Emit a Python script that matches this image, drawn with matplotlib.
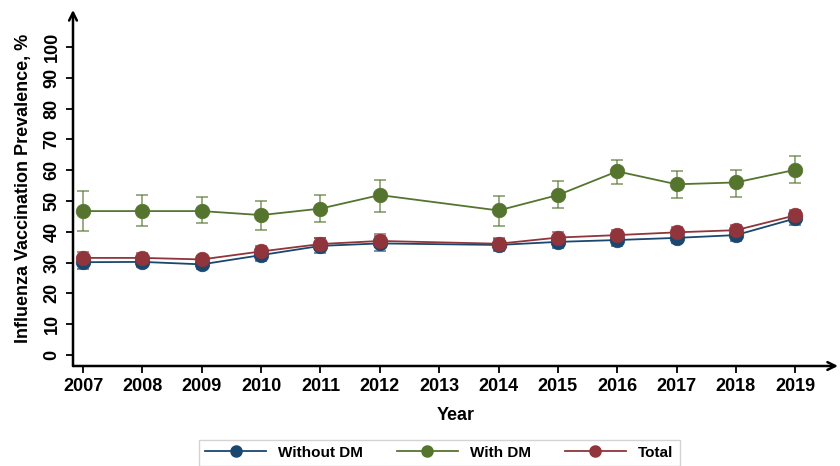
import matplotlib
matplotlib.use("Agg")
import matplotlib.pyplot as plt
from matplotlib.lines import Line2D

plt.rcParams['font.family'] = ['Liberation Sans', 'DejaVu Sans']

# Survey years (2013 not collected)
years = [2007, 2008, 2009, 2010, 2011, 2012, 2014, 2015, 2016, 2017, 2018, 2019]
tick_years = list(range(2007, 2020))

# Prevalence (%) with 95% CI bounds
without_dm = [30.1, 30.2, 29.4, 32.4, 35.4, 36.2, 35.7, 36.7, 37.3, 38.0, 38.9, 44.3]
without_lo = [28.0, 28.4, 27.8, 30.6, 33.0, 33.8, 33.8, 34.8, 35.5, 36.2, 37.0, 42.2]
without_hi = [32.2, 32.0, 31.0, 34.2, 37.8, 38.6, 37.6, 38.6, 39.1, 39.8, 40.8, 46.4]

with_dm = [46.7, 46.7, 46.7, 45.4, 47.5, 51.9, 46.9, 51.9, 59.6, 55.4, 56.0, 60.1]
with_lo = [40.2, 41.9, 42.7, 40.6, 43.3, 46.5, 42.0, 47.6, 55.5, 50.8, 51.4, 55.7]
with_hi = [53.2, 52.0, 51.2, 50.0, 52.0, 56.9, 51.6, 56.4, 63.2, 59.7, 60.1, 64.7]

total = [31.5, 31.5, 31.0, 33.6, 36.0, 37.0, 36.1, 38.1, 38.9, 39.8, 40.5, 45.3]
total_lo = [29.5, 29.8, 29.6, 31.9, 34.2, 34.9, 34.4, 36.4, 37.3, 38.2, 38.9, 43.4]
total_hi = [33.5, 33.2, 32.1, 35.3, 37.8, 39.1, 37.8, 39.8, 40.5, 41.4, 42.1, 47.2]

navy = '#1a476f'
green = '#55752f'
maroon = '#90353b'

fig = plt.figure(figsize=(8.4, 4.66), dpi=100)
ax = fig.add_axes([0.0869, 0.2146, 0.9107, 0.764])

series = [
    ('Without DM', without_dm, without_lo, without_hi, navy),
    ('With DM', with_dm, with_lo, with_hi, green),
    ('Total', total, total_lo, total_hi, maroon),
]

handles = []
for name, vals, lo, hi, col in series:
    yerr = [[v - l for v, l in zip(vals, lo)], [h - v for v, h in zip(vals, hi)]]
    ax.errorbar(years, vals, yerr=yerr, fmt='none', ecolor=col, alpha=0.6,
                elinewidth=1.4, capsize=4, capthick=1.4, zorder=2)
    ax.plot(years, vals, color=col, lw=1.3, marker='o', markersize=10.5,
            markerfacecolor=col, markeredgecolor=col, markeredgewidth=0.5, zorder=3)
    handles.append(Line2D([], [], color=col, lw=1.3, marker='o', markersize=8,
                          markerfacecolor=col, markeredgecolor=col, label=name))

ax.set_xlim(2006.83, 2019.72)
ax.set_ylim(-3.6, 112)

for s in ax.spines.values():
    s.set_visible(False)

# Axis lines with open arrow heads
ax.annotate('', xy=(0, 1), xytext=(0, 0), xycoords='axes fraction',
            arrowprops=dict(arrowstyle='->', lw=1.8, color='black',
                            shrinkA=0, shrinkB=0, mutation_scale=14))
ax.annotate('', xy=(1, 0), xytext=(0, 0), xycoords='axes fraction',
            arrowprops=dict(arrowstyle='->', lw=1.8, color='black',
                            shrinkA=0, shrinkB=0, mutation_scale=14))

ax.set_xticks(tick_years)
ax.set_xticklabels([str(y) for y in tick_years], fontsize=13, fontweight='bold')
ax.set_yticks(range(0, 101, 10))
ax.set_yticklabels([str(v) for v in range(0, 101, 10)], fontsize=13,
                   fontweight='bold', rotation=90, va='center')
ax.tick_params(axis='both', direction='out', length=5, width=1.3, color='black', pad=4)

ax.set_xlabel('Year', fontsize=13, fontweight='bold', labelpad=8)
ax.set_ylabel('Influenza Vaccination Prevalence, %', fontsize=13,
              fontweight='bold', labelpad=8)

leg = fig.legend(handles=handles, loc='upper center', bbox_to_anchor=(0.523, 0.073),
                 ncol=3, frameon=True, fancybox=False, edgecolor='#c8c8c8',
                 handlelength=4.0, handletextpad=0.8, columnspacing=2.2,
                 borderpad=0.4, prop={'weight': 'bold', 'size': 11})
leg.get_frame().set_linewidth(1.0)

fig.savefig('out.png', dpi=100)
